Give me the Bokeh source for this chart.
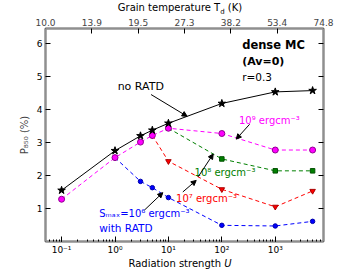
from bokeh.plotting import figure
from bokeh.models import (Range1d, LinearAxis, LinearScale, FixedTicker, Label, Arrow,
                          NormalHead, LogTicker, Div)
from bokeh.layouts import column
from bokeh.embed import file_html
from bokeh.resources import INLINE

# ---------------- data ----------------
U = [0.1, 1, 3, 5, 10, 100, 1000, 5000]
p_no_ratd = [1.55, 2.75, 3.20, 3.37, 3.58, 4.18, 4.53, 4.57]
p_s9 = [1.28, 2.54, 3.01, 3.21, 3.43, 3.27, 2.77, 2.77]
p_s8 = [1.28, 2.54, 3.01, 3.21, 3.43, 2.50, 2.14, 2.14]
p_s7 = [1.28, 2.54, 3.01, 3.21, 2.43, 1.58, 1.05, 1.53]
p_s6 = [1.28, 2.54, 1.82, 1.63, 1.33, 0.49, 0.47, 0.61]
# index where each RATD branch departs from the common curve
start_s8, start_s7, start_s6 = 4, 3, 1

x_ticks = [0.1, 1, 10, 100, 1000]
x_tick_labels = ["10⁻¹", "10⁰", "10¹", "10²", "10³"]
y_ticks = [1, 2, 3, 4, 5, 6]
td_labels = ["10.0", "13.9", "19.5", "27.3", "38.2", "53.4", "74.8"]

FONT = "DejaVu Sans"
GRAY = "#8f8f8f"

p = figure(width=360, height=244, x_axis_type="log",
           x_range=Range1d(0.05, 8000), y_range=Range1d(0, 6.45),
           output_backend="svg", toolbar_location=None,
           min_border_left=45, min_border_right=37,
           min_border_top=15, min_border_bottom=14)
p.xgrid.visible = False
p.ygrid.visible = False
p.outline_line_color = GRAY
p.outline_line_width = 2
p.background_fill_color = "white"

# bottom axis
xa = p.xaxis[0]
xa.ticker = LogTicker(desired_num_ticks=6, num_minor_ticks=10)
xa.major_label_overrides = {t: l for t, l in zip(x_ticks, x_tick_labels)}
# left axis
ya = p.yaxis[0]
ya.ticker = FixedTicker(ticks=y_ticks)
ya.axis_label = "P₈₅₀ (%)"
ya.axis_label_text_font_style = "normal"
ya.axis_label_text_font_size = "10px"
ya.axis_label_standoff = 4

for ax in (xa, ya):
    ax.axis_line_color = GRAY
    ax.axis_line_width = 2
    ax.major_tick_in = 5
    ax.major_tick_out = 0
    ax.minor_tick_in = 2
    ax.minor_tick_out = 0
    ax.major_tick_line_color = "black"
    ax.minor_tick_line_color = "black"
    ax.major_label_text_font = FONT
    ax.major_label_text_font_size = "9px"
    ax.major_label_text_color = "black"
    ax.axis_label_text_font = FONT
    ax.major_label_standoff = 3
ya.minor_tick_line_color = None

# right axis (ticks only)
ra = LinearAxis(ticker=FixedTicker(ticks=y_ticks), axis_line_color=GRAY, axis_line_width=2,
                major_tick_in=5, major_tick_out=0, minor_tick_line_color=None,
                major_label_text_color=None)
p.add_layout(ra, "right")

# top axis: grain temperature (equally spaced ticks)
p.extra_x_ranges = {"td": Range1d(0, len(td_labels) - 1)}
p.extra_x_scales = {"td": LinearScale()}
ta = LinearAxis(x_range_name="td", ticker=FixedTicker(ticks=list(range(len(td_labels)))),
                major_label_overrides={i: l for i, l in enumerate(td_labels)},
                axis_line_color=GRAY, axis_line_width=2,
                major_tick_in=5, major_tick_out=0, minor_tick_line_color=None,
                major_label_text_font=FONT, major_label_text_font_size="9px",
                major_label_standoff=3)
p.add_layout(ta, "above")

DASH = "4 3"
# RATD branches
p.line(U[start_s6:], p_s6[start_s6:], color="blue", line_dash=DASH, line_width=1)
p.scatter(U[start_s6:], p_s6[start_s6:], marker="circle", size=4.5, fill_color="blue",
          line_color="#0000aa")
p.line(U[start_s7:], p_s7[start_s7:], color="red", line_dash=DASH, line_width=1)
p.scatter(U[start_s7:], p_s7[start_s7:], marker="inverted_triangle", size=5.5,
          fill_color="red", line_color="#aa0000")
p.line(U[start_s8:], p_s8[start_s8:], color="green", line_dash=DASH, line_width=1)
p.scatter(U[start_s8:], p_s8[start_s8:], marker="square", size=4.5, fill_color="green",
          line_color="#005000")
p.line(U, p_s9, color="magenta", line_dash=DASH, line_width=1)
p.scatter(U, p_s9, marker="circle", size=6, fill_color="magenta", line_color="#900090")
# no RATD
p.line(U, p_no_ratd, color="black", line_width=1)
p.scatter(U, p_no_ratd, marker="star", size=8, fill_color="black", line_color="black")

# annotations
def lab(x, y, text, color="black", size="10.5px", style="normal", align="left"):
    p.add_layout(Label(x=x, y=y, text=text, text_color=color, text_font=FONT,
                       text_font_size=size, text_font_style=style, text_align=align,
                       text_baseline="middle"))

lab(240, 5.95, "dense MC", size="11.5px", style="bold")
lab(240, 5.45, "(Av=0)", size="11px", style="bold")
lab(240, 4.99, "r=0.3", size="10.5px")
lab(1.12, 4.70, "no RATD", size="11px")
lab(209, 3.65, "10⁹ ergcm⁻³", color="magenta", size="10px")
lab(30.8, 2.08, "10⁸ ergcm⁻³", color="green", size="10px")
lab(13.9, 1.30, "10⁷ ergcm⁻³", color="red", size="10px")
lab(0.507, 0.85, "Sₘₐₓ=10⁶ ergcm⁻³", color="blue", size="10px")
lab(0.507, 0.40, "with RATD", color="blue")

def arr(x0, y0, x1, y1):
    p.add_layout(Arrow(x_start=x0, y_start=y0, x_end=x1, y_end=y1, line_width=1,
                       line_color="black",
                       end=NormalHead(size=5, fill_color="black", line_color="black")))

arr(4.73, 4.45, 22.4, 3.79)
arr(331, 3.55, 186, 3.10)
arr(36.1, 1.96, 69, 2.65)
arr(18.6, 1.50, 33.1, 1.85)
arr(3.55, 0.95, 7.85, 1.48)

# axis titles with subscript / italic parts
div_style = {"font-family": FONT, "font-size": "10px", "line-height": "13px",
             "text-align": "center", "padding-left": "8px", "width": "352px",
             "color": "black", "white-space": "nowrap"}
top_style = dict(div_style, **{"padding-top": "1px"})
top_title = Div(text="Grain temperature T<sub style='font-size:7px'>d</sub> (K)",
                width=360, height=13, margin=(0, 0, 0, 0), styles=top_style)
bottom_title = Div(text="Radiation strength <i>U</i>",
                   width=360, height=13, margin=(0, 0, 0, 0), styles=div_style)

layout = column(top_title, p, bottom_title, spacing=0)
open("out.html", "w").write(file_html(layout, INLINE))
